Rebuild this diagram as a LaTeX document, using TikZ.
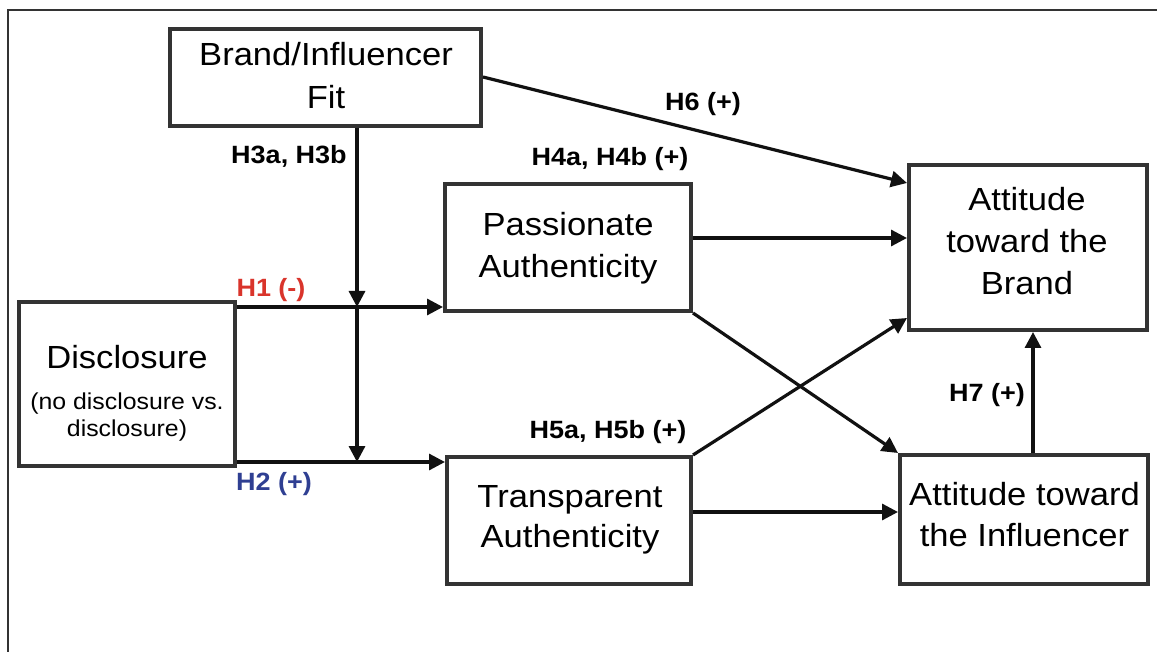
\documentclass[tikz,border=0pt]{standalone}
\usepackage{fontspec}
\setmainfont{Liberation Sans}[FakeStretch=1.08]
\usetikzlibrary{arrows.meta}
\definecolor{hred}{HTML}{D9342B}
\definecolor{hblue}{HTML}{2F3F92}
\definecolor{boxgray}{HTML}{333333}
\definecolor{linecol}{HTML}{111111}
\tikzset{
  box/.style={draw=boxgray, line width=4pt, inner sep=0pt, fill=white},
  boxtext/.style={align=center, inner sep=0pt, anchor=north},
  hlabel/.style={font=\bfseries\fontsize{25}{30}\selectfont, inner sep=0pt, anchor=base},
  conn/.style={draw=linecol, line width=3.2pt, -{Triangle[length=16pt,width=16pt]}},
}
\begin{document}
\begin{tikzpicture}[x=1pt,y=-1pt]
\useasboundingbox (0,0) rectangle (1157,652);
\draw[boxgray, line width=2pt] (8,652) -- (8,10) -- (1157,10);

% boxes
\node[box, minimum width=311pt, minimum height=97pt] (fit) at (325.5,77.5) {};
\node[box, minimum width=216pt, minimum height=164pt] (disc) at (127,384) {};
\node[box, minimum width=246pt, minimum height=127pt] (pa) at (568,247.5) {};
\node[box, minimum width=244pt, minimum height=127pt] (ta) at (569,520.5) {};
\node[box, minimum width=238pt, minimum height=165pt] (ab) at (1028,247.5) {};
\node[box, minimum width=248pt, minimum height=129pt] (ai) at (1024,519.5) {};

% box texts
\node[boxtext, font=\fontsize{32}{43}\selectfont] (tfit) at (326,42) {Brand/Influencer\\Fit};
\node[boxtext, font=\fontsize{32}{42}\selectfont] (tdisc) at (127,345) {Disclosure};
\node[boxtext, font=\fontsize{23}{27}\selectfont] (tdisc2) at (127,393) {(no disclosure vs.\\disclosure)};
\node[boxtext, font=\fontsize{32}{42}\selectfont] (tpa) at (568,212) {Passionate\\Authenticity};
\node[boxtext, font=\fontsize{32}{40}\selectfont] (tta) at (570,485) {Transparent\\Authenticity};
\node[boxtext, font=\fontsize{32}{42}\selectfont] (tab) at (1027,187) {Attitude\\toward the\\Brand};
\node[boxtext, font=\fontsize{32}{41}\selectfont] (tai) at (1024.5,482) {Attitude toward\\the Influencer};

% junction points on the vertical moderator line
\coordinate (j1) at (357,307);
\coordinate (j2) at (357,462);

% connectors
\draw[conn] (fit.east |- 0,77) -- (ab.west |- 0,183);
\draw[conn] (pa.east |- 0,238) -- (ab.west |- 0,238);
\draw[conn] (pa.south east) -- (ai.north west);
\draw[conn] (ta.north east) -- (ab.west |- 0,318);
\draw[conn] (ta.east |- 0,512) -- (ai.west |- 0,512);
\draw[conn] (1033,0 |- ai.north) -- (1033,0 |- ab.south);
\draw[conn] (disc.east |- j1) -- (pa.west |- j1);
\draw[conn] (disc.east |- j2) -- (ta.west |- j2);
\draw[conn] (j1 |- fit.south) -- (j1);
\draw[conn] (j1) -- (j2);

% labels
\node[hlabel] (h3) at (289,164) {H3a, H3b};
\node[hlabel] (h4) at (610,166) {H4a, H4b (+)};
\node[hlabel] (h6) at (703,111) {H6 (+)};
\node[hlabel, text=hred] (h1) at (271,297) {H1 (-)};
\node[hlabel, text=hblue] (h2) at (274,490) {H2 (+)};
\node[hlabel] (h5) at (608,438) {H5a, H5b (+)};
\node[hlabel] (h7) at (987,401) {H7 (+)};
\end{tikzpicture}
\end{document}
